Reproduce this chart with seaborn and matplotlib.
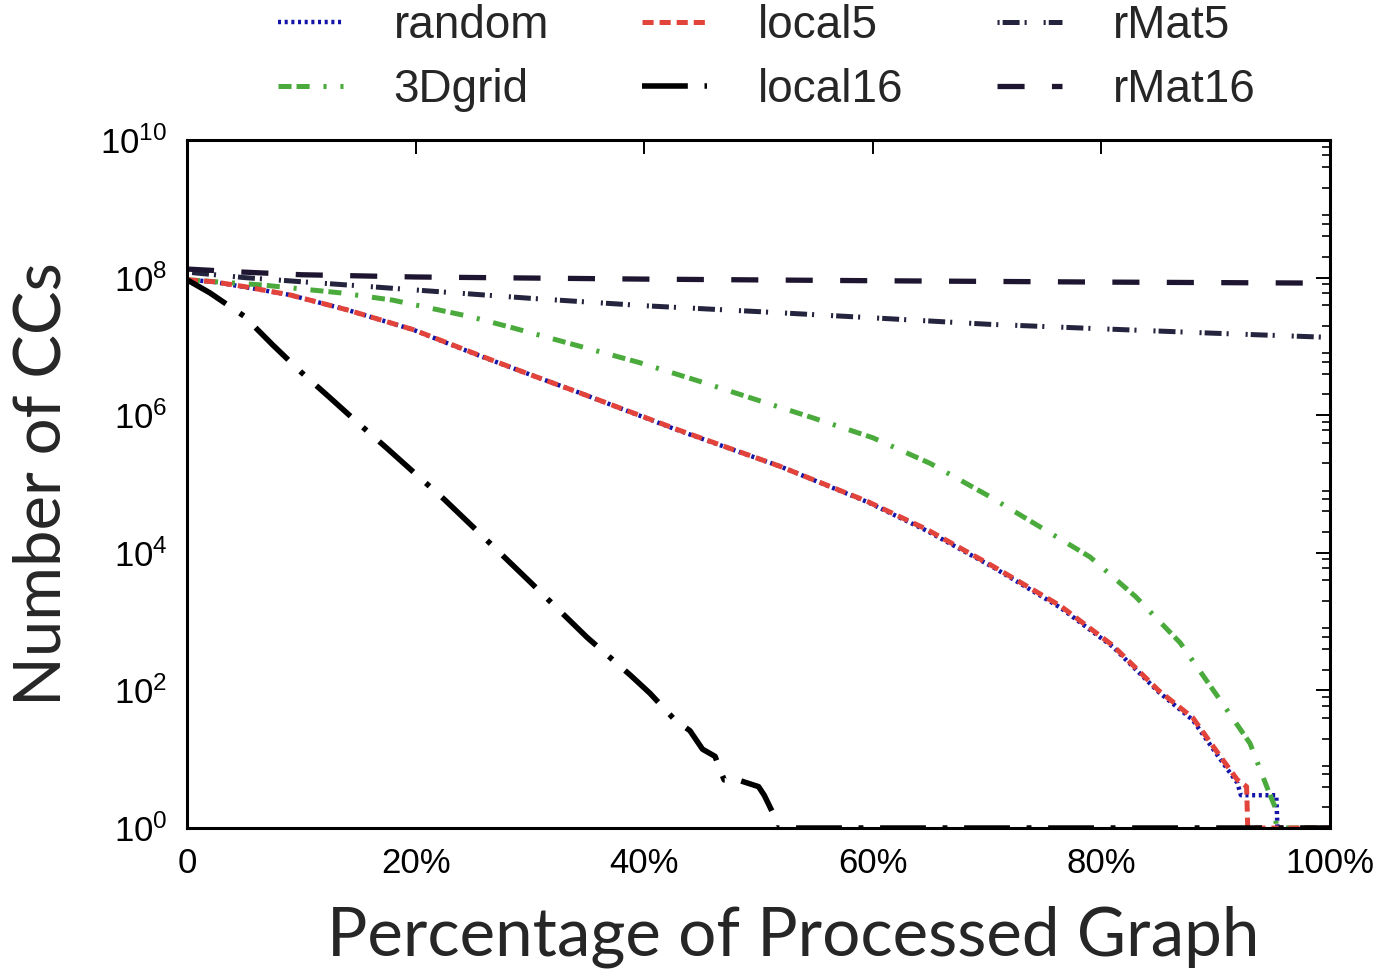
import math
import matplotlib
matplotlib.use("Agg")
import matplotlib.pyplot as plt
import seaborn as sns
from matplotlib.ticker import LogLocator, FuncFormatter, NullLocator, FixedLocator

# ---- data (x in % of processed graph, y = number of CCs)
random_x = [0, 2.3, 5, 9, 14, 19.8, 25.5, 30, 34.4, 43, 51.9, 59.5, 64.7, 70.5, 76.4, 81, 85, 88, 90.4, 91.9, 92.2, 95.3, 95.4, 100]
random_y = [9.3e7, 8.7e7, 7.3e7, 5.6e7, 3.4e7, 1.74e7, 7.4e6, 3.9e6, 2.1e6, 6.0e5, 1.8e5, 5.5e4, 2.1e4, 6.2e3, 1.6e3, 430, 95, 37, 10, 4.5, 3, 3, 1, 1]

local5_x = [0, 2.3, 5, 9, 14, 19.8, 25.5, 30, 34.4, 43, 51.9, 59.5, 64.7, 70.5, 76.4, 81, 85, 88, 90.4, 91.9, 92.7, 92.8, 100]
local5_y = [9.3e7, 8.7e7, 7.4e7, 5.6e7, 3.4e7, 1.75e7, 7.5e6, 3.9e6, 2.1e6, 6.1e5, 1.8e5, 5.6e4, 2.2e4, 6.4e3, 1.7e3, 450, 100, 40, 11, 5, 4, 1, 1]

grid3d_x = [0, 6.6, 13.4, 18, 24.8, 28.5, 34.6, 39.6, 44.6, 49.9, 54.8, 60, 65, 70, 74.6, 79, 83, 86.9, 90.4, 93, 94.6, 95.2, 95.3, 100]
grid3d_y = [9.3e7, 7.8e7, 6.0e7, 4.7e7, 2.7e7, 1.86e7, 9.8e6, 5.8e6, 3.2e6, 1.66e6, 9.1e5, 4.7e5, 2.0e5, 6.9e4, 2.4e4, 8.7e3, 2.3e3, 490, 72, 17, 3.5, 2, 1, 1]

local16_x = [0, 2, 5, 7.5, 10, 12.5, 15, 17.5, 20, 22.5, 25, 30, 35, 38.8, 40.5, 41.6, 42.7, 44, 45.1, 46.2, 46.8, 47, 48.2, 50, 50.5, 51.3, 51.5, 100]
local16_y = [9.3e7, 6.0e7, 2.75e7, 1.05e7, 4.2e6, 1.8e6, 7.6e5, 3.3e5, 1.4e5, 6.0e4, 2.4e4, 3.8e3, 590, 166, 91, 58, 37, 26, 14, 11, 6, 5, 5, 4, 3, 1.6, 1, 1]

rmat5_x = [0, 5, 10, 15, 20, 30, 40, 50, 60, 70, 80, 90, 100]
rmat5_y = [1.2e8, 1.0e8, 8.7e7, 7.6e7, 6.6e7, 5.0e7, 3.9e7, 3.2e7, 2.6e7, 2.1e7, 1.8e7, 1.55e7, 1.35e7]

rmat16_x = [0, 5, 10, 20, 40, 60, 80, 100]
rmat16_y = [1.33e8, 1.2e8, 1.1e8, 1.02e8, 9.5e7, 9.0e7, 8.6e7, 8.3e7]

x_ticks = [0, 20, 40, 60, 80, 100]

sns.set_style("white")
plt.rcParams["font.family"] = ["Liberation Sans", "DejaVu Sans"]
plt.rcParams["mathtext.default"] = "regular"
plt.rcParams["lines.scale_dashes"] = False
plt.rcParams["lines.dash_capstyle"] = "butt"

fig = plt.figure(figsize=(13.83, 9.76), dpi=100)
ax = fig.add_axes([0.1352, 0.1516, 0.8265, 0.7050])

series = [
    ("random", random_x, random_y, "#1414a8", 3.2, (0, (2.2, 2.6))),
    ("3Dgrid", grid3d_x, grid3d_y, "#4aab3c", 3.6, (0, (9.4, 3.6, 9.4, 10, 2.2, 10))),
    ("local5", local5_x, local5_y, "#e2443c", 3.6, (0, (8, 4.3))),
    ("local16", local16_x, local16_y, "black", 4.0, (0, (33, 12, 3.5, 12))),
    ("rMat5", rmat5_x, rmat5_y, "#24243f", 3.6, (0, (1.5, 2.2, 12.2, 3.6, 1.5, 12.2))),
    ("rMat16", rmat16_x, rmat16_y, "#1e1630", 3.8, (0, (19.5, 19.7))),
]

for name, xs, ys, col, lw, ls in series:
    sns.lineplot(x=xs, y=ys, ax=ax, color=col, lw=lw, linestyle=ls,
                 label=name, sort=False, estimator=None)

ax.set_yscale("log")
ax.set_xlim(0, 100)
ax.set_ylim(1, 1e10)

ax.yaxis.set_major_locator(LogLocator(base=100, numticks=12))
ax.yaxis.set_minor_locator(LogLocator(base=10, subs=(2, 4, 6, 8), numticks=30))
ax.yaxis.set_major_formatter(FuncFormatter(lambda v, p: r"$10^{%d}$" % round(math.log10(v))))
ax.xaxis.set_major_locator(FixedLocator(x_ticks))
ax.xaxis.set_minor_locator(NullLocator())
ax.xaxis.set_major_formatter(FuncFormatter(lambda v, p: "0" if v == 0 else f"{v:.0f}%"))

ax.tick_params(which="both", direction="in", top=True, right=True, colors="black")
ax.tick_params(which="major", length=10, width=1.4, labelsize=25)
ax.tick_params(axis="x", which="major", pad=14)
ax.tick_params(axis="y", which="major", pad=14)
ax.tick_params(which="minor", length=5.5, width=1.2)

for s in ax.spines.values():
    s.set_linewidth(2.2)
    s.set_color("black")

ax.set_xlabel("Percentage of Processed Graph", fontsize=48.5, family=["Lato", "DejaVu Sans"])
ax.set_ylabel("Number of CCs", fontsize=47, family=["Lato", "DejaVu Sans"])
ax.xaxis.set_label_coords(0.53, -0.112)
ax.yaxis.set_label_coords(-0.1006, 0.5)

ax.get_legend().remove()
handles, labels = ax.get_legend_handles_labels()
fig.legend(handles, labels, ncol=3, loc="upper left", bbox_to_anchor=(278 / 1383, 1 - 4 / 976),
           frameon=False, fontsize=33, handlelength=1.42, handletextpad=1.1,
           columnspacing=2.04, labelspacing=0.43, borderpad=0, borderaxespad=0)

fig.savefig("out.png", dpi=100)
